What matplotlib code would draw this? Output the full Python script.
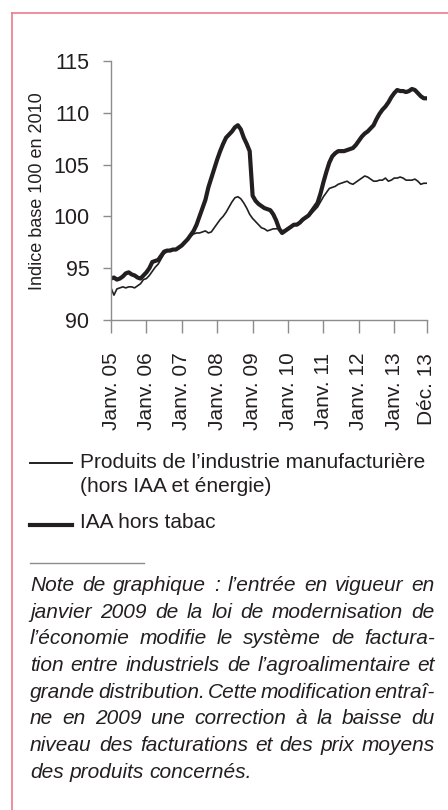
import numpy as np
import matplotlib
matplotlib.use('Agg')
import matplotlib.pyplot as plt
from matplotlib.lines import Line2D

plt.rcParams['font.family'] = ['Liberation Sans', 'DejaVu Sans']

# monthly index, Jan 2005 .. Dec 2013
months = np.arange(108)
tick_months = [0, 12, 24, 36, 48, 60, 72, 84, 96, 107]
tick_labels = ['Janv. 05', 'Janv. 06', 'Janv. 07', 'Janv. 08', 'Janv. 09',
               'Janv. 10', 'Janv. 11', 'Janv. 12', 'Janv. 13', 'Déc. 13']

manuf = [93.1, 92.4, 93.0, 93.1, 93.2, 93.1, 93.2, 93.2, 93.1, 93.3, 93.5, 93.9,
         94.0, 94.3, 94.7, 95.1, 95.4, 95.9, 96.4, 96.6, 96.8, 96.8, 96.8, 96.9,
         97.1, 97.4, 97.8, 98.1, 98.3, 98.4, 98.4, 98.5, 98.6, 98.4, 98.5, 98.9,
         99.3, 99.7, 100.0, 100.4, 100.9, 101.4, 101.8, 101.9, 101.7, 101.3, 100.8, 100.2,
         99.8, 99.5, 99.2, 98.9, 98.8, 98.6, 98.7, 98.8, 98.8, 98.9, 98.6, 98.7,
         98.9, 99.0, 99.2, 99.3, 99.4, 99.6, 99.8, 100.0, 100.3, 100.6, 100.9, 101.4,
         101.9, 102.3, 102.7, 102.8, 102.9, 103.1, 103.2, 103.3, 103.4, 103.2, 103.1, 103.3,
         103.5, 103.7, 103.9, 103.8, 103.6, 103.4, 103.4, 103.5, 103.5, 103.7, 103.4, 103.5,
         103.7, 103.7, 103.8, 103.7, 103.5, 103.5, 103.5, 103.6, 103.4, 103.1, 103.2, 103.2]

iaa = [94.0, 94.1, 93.9, 94.0, 94.2, 94.5, 94.6, 94.4, 94.3, 94.1, 94.0, 94.3,
       94.6, 95.0, 95.6, 95.7, 95.8, 96.2, 96.6, 96.7, 96.7, 96.8, 96.8, 97.0,
       97.2, 97.5, 97.8, 98.2, 98.6, 99.2, 100.0, 100.8, 101.6, 102.8, 103.7, 104.6,
       105.5, 106.3, 107.0, 107.6, 107.9, 108.2, 108.6, 108.8, 108.4, 107.6, 107.0, 106.3,
       102.0, 101.5, 101.2, 101.0, 100.8, 100.7, 100.6, 100.2, 99.6, 98.8, 98.4, 98.6,
       98.8, 99.0, 99.2, 99.2, 99.4, 99.7, 99.9, 100.1, 100.5, 100.9, 101.3, 102.2,
       103.3, 104.3, 105.2, 105.8, 106.1, 106.3, 106.3, 106.3, 106.4, 106.5, 106.6, 106.9,
       107.3, 107.7, 108.0, 108.2, 108.5, 108.8, 109.4, 109.9, 110.3, 110.6, 111.0, 111.5,
       111.9, 112.2, 112.1, 112.1, 112.0, 112.1, 112.3, 112.2, 111.9, 111.6, 111.4, 111.4]

note_lines = ['Note de graphique : l’entrée en vigueur en',
              'janvier 2009 de la loi de modernisation de',
              'l’économie modifie le système de factura-',
              'tion entre industriels de l’agroalimentaire et',
              'grande distribution. Cette modification entraî-',
              'ne en 2009 une correction à la baisse du',
              'niveau des facturations et des prix moyens',
              'des produits concernés.']

W, H = 448, 810
fig = plt.figure(figsize=(W / 100, H / 100), dpi=100)
dark = '#231f20'
grey = '#8c8c8c'

ax = fig.add_axes([111 / W, 1 - 320 / H, (426.7 - 111) / W, (320 - 61) / H])
ax.plot(months, manuf, color=dark, lw=1.2)
ax.plot(months, iaa, color=dark, lw=3.0)
ax.set_xlim(0, 107)
ax.set_ylim(90, 115)
ax.set_yticks([90, 95, 100, 105, 110, 115])
ax.set_xticks(tick_months)
ax.set_xticklabels(tick_labels, rotation=90)
for s in ['top', 'right']:
    ax.spines[s].set_visible(False)
for s in ['left', 'bottom']:
    ax.spines[s].set_color(grey)
    ax.spines[s].set_linewidth(1.0)
ax.tick_params(axis='y', length=5.5, width=1.0, color=grey, pad=10,
               labelsize=15.5, labelcolor=dark)
ax.tick_params(axis='x', length=9.5, width=1.0, color=grey, pad=14,
               labelsize=15, labelcolor=dark)

fig.text(38 / W, 1 - 191 / H, 'Indice base 100 en 2010', rotation=90,
         ha='center', va='center', fontsize=13, color=dark)

# border
fig.add_artist(Line2D([12 / W, 1], [1 - 12.5 / H] * 2, color='#ec7a8b', lw=1.2))
fig.add_artist(Line2D([12 / W] * 2, [0, 1 - 12.5 / H], color='#ec7a8b', lw=1.2))

# legend
fig.add_artist(Line2D([30 / W, 72 / W], [1 - 463 / H] * 2, color=dark, lw=1.4))
fig.add_artist(Line2D([30 / W, 72 / W], [1 - 525 / H] * 2, color=dark, lw=3.0))
fig.text(80 / W, 1 - 467.7 / H, 'Produits de l’industrie manufacturière',
         fontsize=15, color=dark, va='baseline')
fig.text(80 / W, 1 - 492 / H, '(hors IAA et énergie)',
         fontsize=15, color=dark, va='baseline')
fig.text(80 / W, 1 - 528 / H, 'IAA hors tabac',
         fontsize=15, color=dark, va='baseline')

fig.add_artist(Line2D([30 / W, 144 / W], [1 - 563 / H] * 2, color=grey, lw=1.0))

# justified note
renderer = fig.canvas.get_renderer()
x0, x1 = 30, 435
for i, line in enumerate(note_lines):
    yb = 1 - (591 + 26.7 * i) / H
    words = line.split(' ')
    texts = [fig.text(0, yb, w, fontsize=15, style='italic', color=dark,
                      va='baseline') for w in words]
    widths = [t.get_window_extent(renderer).width for t in texts]
    if i < len(note_lines) - 1:
        gap = (x1 - x0 - sum(widths)) / (len(words) - 1)
    else:
        gap = texts[0].get_fontsize() * 100 / 72 * 0.278
    x = x0
    for t, wd in zip(texts, widths):
        t.set_x(x / W)
        x += wd + gap

fig.savefig('out.png', dpi=100)
